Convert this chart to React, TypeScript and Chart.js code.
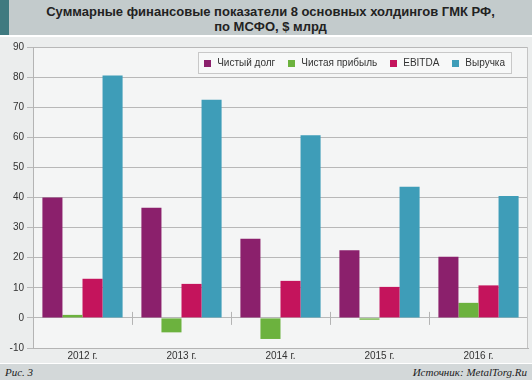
import React, { useEffect, useRef } from "react";
import { Chart, registerables } from "chart.js";

Chart.register(...registerables);

const categories = ["2012 г.", "2013 г.", "2014 г.", "2015 г.", "2016 г."];
const netDebt = [40, 36.6, 26.3, 22.5, 20.3];
const netProfit = [1, -4.8, -7, -0.6, 5];
const ebitda = [13, 11.3, 12.3, 10.3, 10.8];
const revenue = [80.5, 72.5, 60.7, 43.6, 40.5];
const seriesNames = ["Чистый долг", "Чистая прибыль", "EBITDA", "Выручка"];
const seriesColors = ["#8b206c", "#6cb23e", "#c4145c", "#3e9db8"];
const yMin = -10;
const yMax = 90;
const yStep = 10;

const FONT = "'Liberation Sans', Arial, sans-serif";

const decorPlugin = {
  id: "decor",
  beforeDraw(chart: any) {
    const { ctx, chartArea } = chart;
    ctx.save();
    ctx.fillStyle = "#f4f5f5";
    ctx.fillRect(chartArea.left, chartArea.top, chartArea.right - chartArea.left, chartArea.bottom - chartArea.top);
    ctx.restore();
  },
  afterDatasetsDraw(chart: any) {
    const { ctx, chartArea, scales } = chart;
    const x = scales.x;
    const y = scales.y;
    const y0 = y.getPixelForValue(0);
    ctx.save();
    ctx.strokeStyle = "#b4b4b4";
    ctx.lineWidth = 1;
    for (let i = 0; i < categories.length - 1; i++) {
      const px = Math.round((x.getPixelForValue(i) + x.getPixelForValue(i + 1)) / 2) + 0.5;
      ctx.beginPath();
      ctx.moveTo(px, y0 - 6);
      ctx.lineTo(px, y0 + 7);
      ctx.stroke();
    }
    ctx.strokeStyle = "#c4c4c4";
    ctx.beginPath();
    ctx.moveTo(Math.round(chartArea.right) - 0.5, chartArea.top);
    ctx.lineTo(Math.round(chartArea.right) - 0.5, chartArea.bottom);
    ctx.stroke();
    ctx.restore();
  },
  afterDraw(chart: any) {
    const { ctx, chartArea } = chart;
    ctx.save();
    ctx.font = `10px ${FONT}`;
    const sq = 7;
    const gapText = 6;
    const gapItem = 13;
    const pad = 6;
    const widths = seriesNames.map((n) => ctx.measureText(n).width);
    let total = 0;
    widths.forEach((w, i) => {
      total += sq + gapText + w + (i < widths.length - 1 ? gapItem : 0);
    });
    const right = chartArea.right - 17;
    const left = right - total - pad * 2;
    const top = chartArea.top + 5;
    const h = 21;
    ctx.fillStyle = "#f7f8f8";
    ctx.fillRect(left, top, right - left, h);
    ctx.strokeStyle = "#c8c8c8";
    ctx.lineWidth = 1;
    ctx.strokeRect(Math.round(left) + 0.5, Math.round(top) + 0.5, Math.round(right - left), h);
    let cx = left + pad;
    const cy = top + h / 2 + 1;
    ctx.textBaseline = "middle";
    seriesNames.forEach((n, i) => {
      ctx.fillStyle = seriesColors[i];
      ctx.fillRect(Math.round(cx), Math.round(cy - sq / 2), sq, sq);
      ctx.fillStyle = "#333";
      ctx.fillText(n, cx + sq + gapText, cy);
      cx += sq + gapText + widths[i] + gapItem;
    });
    ctx.restore();
  },
};

function ChartView() {
  const ref = useRef<HTMLCanvasElement | null>(null);
  useEffect(() => {
    if (!ref.current) return;
    const values = [netDebt, netProfit, ebitda, revenue];
    const chart = new Chart(ref.current, {
      type: "bar",
      data: {
        labels: categories,
        datasets: values.map((v, i) => ({
          label: seriesNames[i],
          data: v,
          backgroundColor: seriesColors[i],
          borderWidth: 0,
          categoryPercentage: 0.81,
          barPercentage: 1,
        })),
      },
      options: {
        animation: false,
        responsive: false,
        maintainAspectRatio: false,
        layout: { padding: { top: 10, right: 4, bottom: 0, left: 0 } },
        plugins: {
          legend: { display: false },
          tooltip: { enabled: false },
          title: { display: false },
        },
        scales: {
          x: {
            grid: { display: false, drawTicks: false },
            border: { display: true, color: "#b4b4b4" },
            ticks: { font: { family: FONT, size: 10 }, color: "#333", padding: 2 },
            afterFit(scale: any) {
              scale.height = 15;
            },
          },
          y: {
            min: yMin,
            max: yMax,
            ticks: { stepSize: yStep, font: { family: FONT, size: 10 }, color: "#333", padding: 3 },
            grid: { color: "#b8b8b8", tickLength: 6, drawTicks: true },
            border: { display: true, color: "#b4b4b4" },
            afterFit(scale: any) {
              scale.width = 33;
            },
          },
        },
      },
      plugins: [decorPlugin],
    });
    return () => chart.destroy();
  }, []);
  return <canvas ref={ref} width={532} height={326} style={{ display: "block" }} />;
}

export default function App() {
  return (
    <div style={{ position: "relative", width: 532, height: 380, background: "#fff", overflow: "hidden" }}>
      <style>{"body{margin:0}"}</style>
      <div
        style={{
          position: "absolute",
          left: 0,
          top: 0,
          width: 532,
          height: 35,
          background: "#c3cbcc",
        }}
      >
        <div style={{ position: "absolute", left: 0, top: 0, width: 9, height: 35, background: "#3f7a80" }} />
        <div
          style={{
            position: "absolute",
            left: 9,
            right: 0,
            top: 4,
            textAlign: "center",
            fontFamily: FONT,
            fontWeight: "bold",
            fontSize: 13,
            lineHeight: "15px",
            color: "#222",
          }}
        >
          Суммарные финансовые показатели 8 основных холдингов ГМК РФ,
          <br />
          по МСФО, $ млрд
        </div>
      </div>
      <div style={{ position: "absolute", left: 0, top: 37, width: 532, height: 326, background: "#ebeded" }}>
        <ChartView />
      </div>
      <div
        style={{
          position: "absolute",
          left: 0,
          top: 364,
          width: 532,
          height: 16,
          background: "#d3d8d9",
          fontFamily: "'Liberation Serif', 'DejaVu Serif', serif",
          fontStyle: "italic",
          fontSize: 11,
          lineHeight: "16px",
          color: "#222",
        }}
      >
        <span style={{ position: "absolute", left: 5, top: 0 }}>Рис. 3</span>
        <span style={{ position: "absolute", right: 5, top: 0 }}>Источник: MetalTorg.Ru</span>
      </div>
    </div>
  );
}
